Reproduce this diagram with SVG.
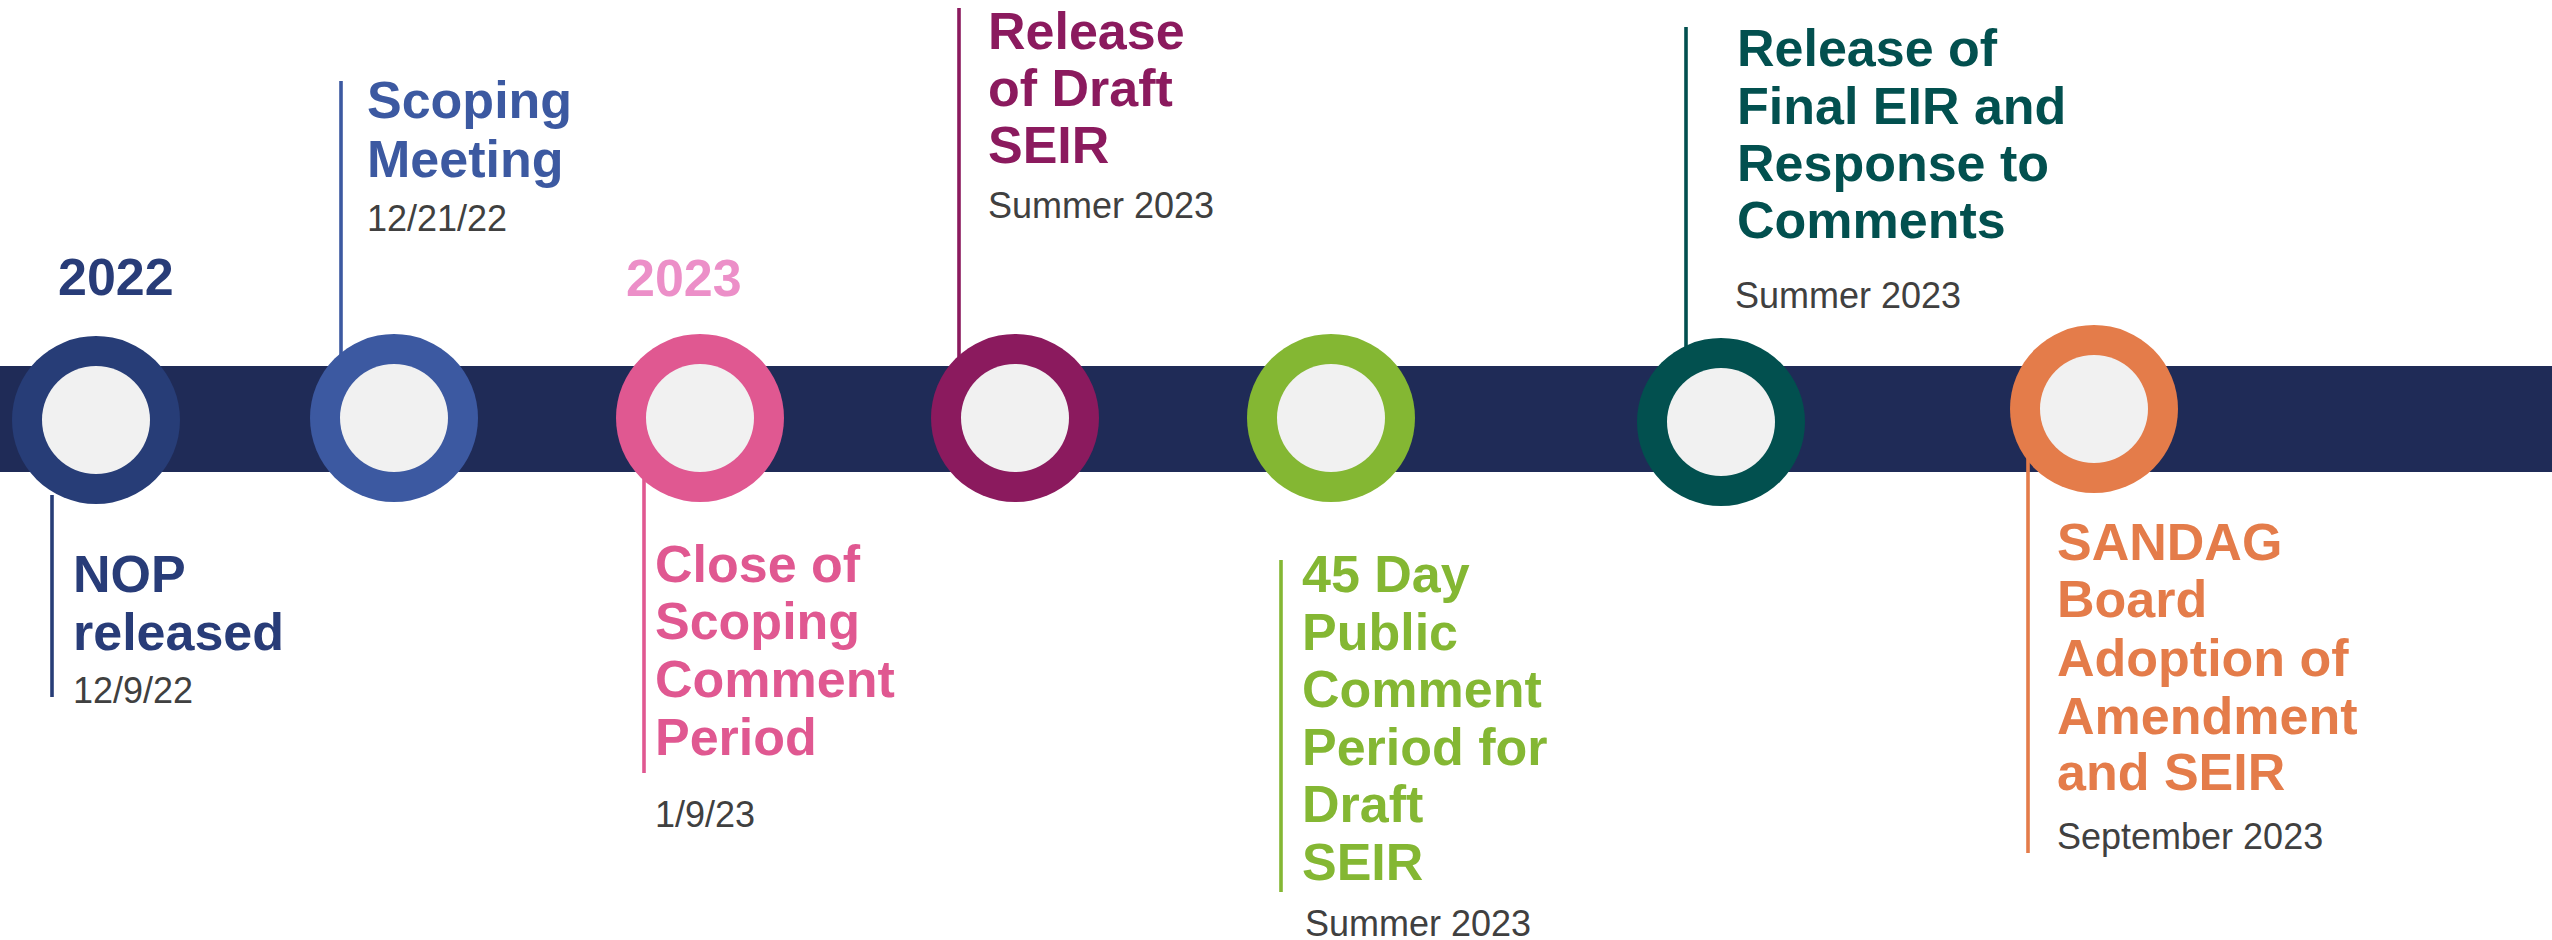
<svg xmlns="http://www.w3.org/2000/svg" width="2552" height="940" viewBox="0 0 2552 940">
<style>
.t{font-family:"Liberation Sans",Arial,sans-serif;font-weight:bold;font-size:52px}
.d{font-family:"Liberation Sans",Arial,sans-serif;font-size:36px;fill:#404040}
.y{font-family:"Liberation Sans",Arial,sans-serif;font-weight:bold;font-size:52px}
.in{fill:#F1F1F1}
.ln{stroke-width:3.6;fill:none}
</style>
<rect x="0" y="0" width="2552" height="940" fill="#FFFFFF"/>
<rect id="bar" x="0" y="366" width="2552" height="106" fill="#1F2B57"/>
<g id="connectors">
<line class="ln" x1="52" y1="495" x2="52" y2="697" stroke="#273D77"/>
<line class="ln" x1="341" y1="81" x2="341" y2="360" stroke="#3C59A1"/>
<line class="ln" x1="644" y1="477" x2="644" y2="773" stroke="#E05891"/>
<line class="ln" x1="959" y1="8" x2="959" y2="360" stroke="#8B1A5E"/>
<line class="ln" x1="1281" y1="560" x2="1281" y2="892" stroke="#84B733"/>
<line class="ln" x1="1686" y1="27" x2="1686" y2="350" stroke="#02504F"/>
<line class="ln" x1="2028" y1="458" x2="2028" y2="853" stroke="#E47C4A"/>
</g>
<text class="y" x="58" y="295" fill="#283C78">2022</text>
<text class="y" x="626" y="296" fill="#EC8FC8">2023</text>
<g id="n1">
<circle cx="96" cy="420" r="84" fill="#273D77"/>
<circle class="in" cx="96" cy="420" r="54"/>
<text class="t" fill="#283C78"><tspan x="73" y="592">NOP</tspan><tspan x="73" y="650">released</tspan></text>
<text class="d" x="73" y="703">12/9/22</text>
</g>
<g id="n2">
<circle cx="394" cy="418" r="84" fill="#3C59A1"/>
<circle class="in" cx="394" cy="418" r="54"/>
<text class="t" fill="#3C59A1"><tspan x="367" y="118">Scoping</tspan><tspan x="367" y="177">Meeting</tspan></text>
<text class="d" x="367" y="231">12/21/22</text>
</g>
<g id="n3">
<circle cx="700" cy="418" r="84" fill="#E05891"/>
<circle class="in" cx="700" cy="418" r="54"/>
<text class="t" fill="#E05891"><tspan x="655" y="582">Close of</tspan><tspan x="655" y="639">Scoping</tspan><tspan x="655" y="697">Comment</tspan><tspan x="655" y="755">Period</tspan></text>
<text class="d" x="655" y="827">1/9/23</text>
</g>
<g id="n4">
<circle cx="1015" cy="418" r="84" fill="#8B1A5E"/>
<circle class="in" cx="1015" cy="418" r="54"/>
<text class="t" fill="#8B1A5E"><tspan x="988" y="49">Release</tspan><tspan x="988" y="106">of Draft</tspan><tspan x="988" y="163">SEIR</tspan></text>
<text class="d" x="988" y="218">Summer 2023</text>
</g>
<g id="n5">
<circle cx="1331" cy="418" r="84" fill="#84B733"/>
<circle class="in" cx="1331" cy="418" r="54"/>
<text class="t" fill="#84B733"><tspan x="1302" y="592">45 Day</tspan><tspan x="1302" y="650">Public</tspan><tspan x="1302" y="707">Comment</tspan><tspan x="1302" y="765">Period for</tspan><tspan x="1302" y="822">Draft</tspan><tspan x="1302" y="880">SEIR</tspan></text>
<text class="d" x="1305" y="936">Summer 2023</text>
</g>
<g id="n6">
<circle cx="1721" cy="422" r="84" fill="#02504F"/>
<circle class="in" cx="1721" cy="422" r="54"/>
<text class="t" fill="#02504F"><tspan x="1737" y="66">Release of</tspan><tspan x="1737" y="124">Final EIR and</tspan><tspan x="1737" y="181">Response to</tspan><tspan x="1737" y="238">Comments</tspan></text>
<text class="d" x="1735" y="308">Summer 2023</text>
</g>
<g id="n7">
<circle cx="2094" cy="409" r="84" fill="#E47C4A"/>
<circle class="in" cx="2094" cy="409" r="54"/>
<text class="t" fill="#E47C4A"><tspan x="2057" y="560">SANDAG</tspan><tspan x="2057" y="617">Board</tspan><tspan x="2057" y="676">Adoption of</tspan><tspan x="2057" y="734">Amendment</tspan><tspan x="2057" y="790">and SEIR</tspan></text>
<text class="d" x="2057" y="849">September 2023</text>
</g>
</svg>
